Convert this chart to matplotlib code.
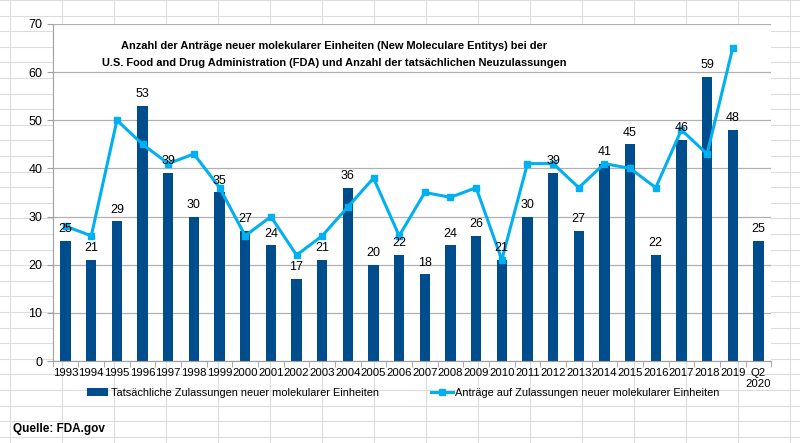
import numpy as np
import matplotlib
matplotlib.use("Agg")
import matplotlib.pyplot as plt
from matplotlib.patches import Rectangle

# Daten
jahre = ['1993', '1994', '1995', '1996', '1997', '1998', '1999', '2000', '2001', '2002',
         '2003', '2004', '2005', '2006', '2007', '2008', '2009', '2010', '2011', '2012',
         '2013', '2014', '2015', '2016', '2017', '2018', '2019', 'Q2\n2020']
zulassungen = [25, 21, 29, 53, 39, 30, 35, 27, 24, 17, 21, 36, 20, 22, 18, 24, 26, 21,
               30, 39, 27, 41, 45, 22, 46, 59, 48, 25]
antraege = [28, 26, 50, 45, 41, 43, 36, 26, 30, 22, 26, 32, 38, 26, 35, 34, 36, 21,
            41, 41, 36, 41, 40, 36, 48, 43, 65]

dunkelblau = '#004D8E'
hellblau = '#00B0F0'

plt.rcParams['font.family'] = ['Liberation Sans', 'DejaVu Sans']

fig = plt.figure(figsize=(8, 4.43), dpi=100)

# Excel-Raster im Hintergrund
bg = fig.add_axes([0, 0, 1, 1])
bg.set_xlim(0, 800)
bg.set_ylim(443, 0)
bg.axis('off')
for xv in np.arange(10, 800, 52):
    bg.axvline(xv, color='#dcdcdc', lw=0.8)
for yv in np.arange(0, 443, 15.6):
    bg.axhline(yv, color='#dcdcdc', lw=0.8)
bg.add_patch(Rectangle((25, 15), 758, 391, facecolor='white', edgecolor='none'))

ax = fig.add_axes([0.066, 0.185, 0.898, 0.761])
x = np.arange(len(jahre))
balken = ax.bar(x, zulassungen, width=0.4, color=dunkelblau, zorder=2,
                label='Tatsächliche Zulassungen neuer molekularer Einheiten')
linie, = ax.plot(x[:len(antraege)], antraege, color=hellblau, lw=2.2, marker='s', markersize=4,
                 zorder=3, label='Anträge auf Zulassungen neuer molekularer Einheiten')

for xi, v in zip(x, zulassungen):
    ax.text(xi, v + 1.2, str(v), ha='center', va='bottom', fontsize=9, zorder=4)

ax.set_xlim(-0.5, len(jahre) - 0.5)
ax.set_ylim(0, 70)
ax.set_yticks(range(0, 71, 10))
ax.yaxis.grid(True, color='#b0b0b0', lw=0.9)
ax.set_axisbelow(True)
ax.set_xticks(x)
ax.set_xticklabels(jahre, fontsize=8.2, linespacing=1.1)
ax.set_xticks(np.arange(-0.5, len(jahre), 1), minor=True)
ax.tick_params(axis='x', which='major', length=0, pad=5)
ax.tick_params(axis='x', which='minor', length=4, color='#a0a0a0')
ax.tick_params(axis='y', length=4, color='#a0a0a0', labelsize=9)
for s in ['top', 'right']:
    ax.spines[s].set_visible(False)
ax.spines['left'].set_color('#a0a0a0')
ax.spines['bottom'].set_color('#a0a0a0')

fig.text(0.418, 0.896, 'Anzahl der Anträge neuer molekularer Einheiten (New Moleculare Entitys) bei der',
         ha='center', va='center', fontsize=7.9, fontweight='bold')
fig.text(0.418, 0.858, 'U.S. Food and Drug Administration (FDA) und Anzahl der tatsächlichen Neuzulassungen',
         ha='center', va='center', fontsize=7.9, fontweight='bold')

fig.legend(handles=[balken, linie], loc='center', bbox_to_anchor=(0.504, 0.113), ncol=2,
           frameon=False, fontsize=7.9, columnspacing=4.8, handlelength=2.0, handletextpad=0.2)

fig.text(0.016, 0.025, 'Quelle: FDA.gov', fontsize=8.5, fontweight='bold')

fig.savefig('out.png', dpi=100)
